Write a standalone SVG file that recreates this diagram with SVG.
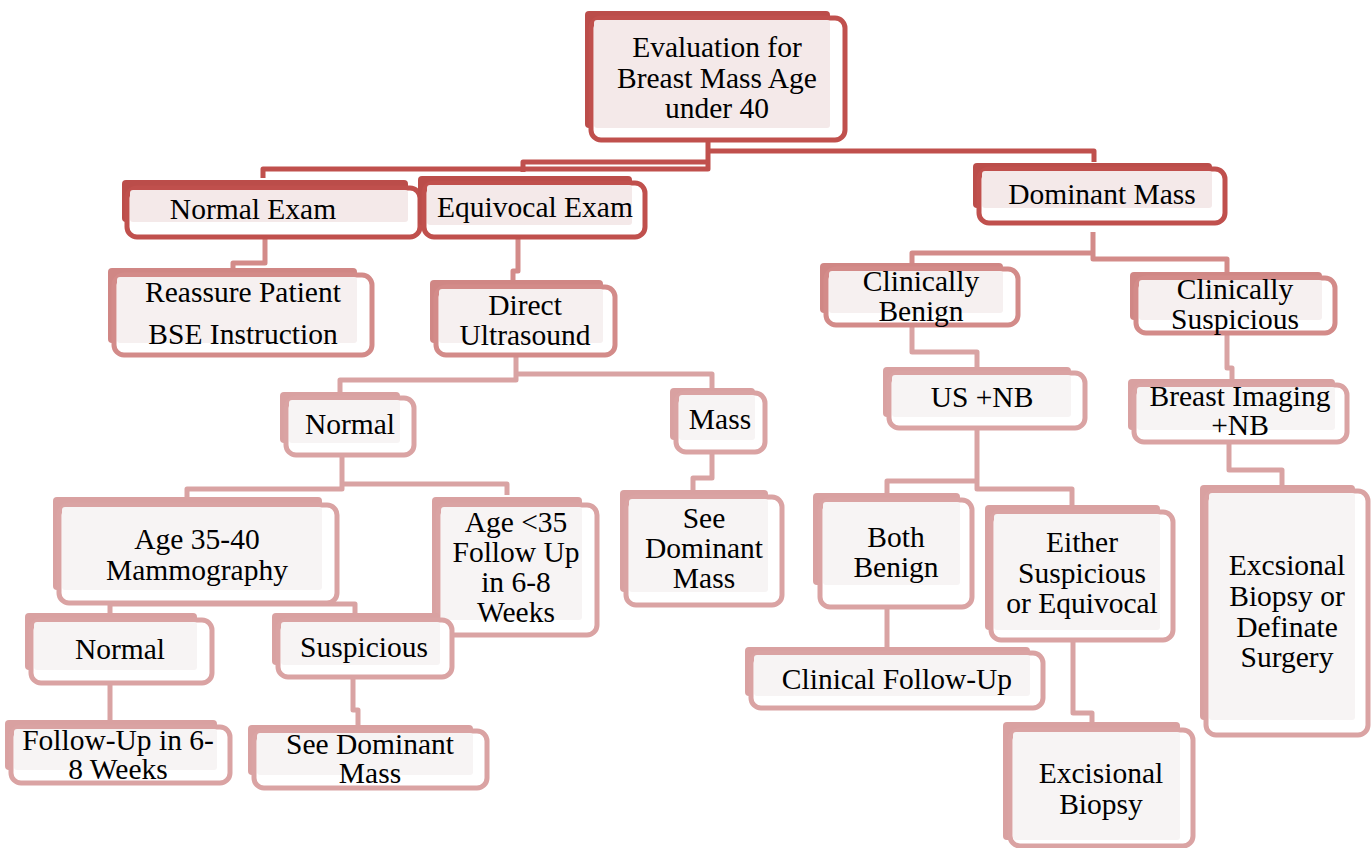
<svg xmlns="http://www.w3.org/2000/svg" width="1371" height="848" viewBox="0 0 1371 848">
<style>
text{font-family:'Liberation Serif','Times New Roman','DejaVu Serif',serif;font-size:29.5px;fill:#000;text-anchor:middle}
.bk{rx:4px}
.fr{fill:#fff;stroke-width:5;rx:10px}
.in{rx:3px}
.L1 .bk{fill:#bb4d4a}.L1 .fr{stroke:#c0504d}.L1 .in{fill:#f4e9e9}
.L2 .bk{fill:#d08785}.L2 .fr{stroke:#d38b89}.L2 .in{fill:#f6f0f0}
.L3 .bk{fill:#d9a1a1}.L3 .fr{stroke:#daa3a3}.L3 .in{fill:#f7f4f4}
#connectors path{fill:none;stroke-width:5;stroke-linejoin:round}
.c1{stroke:#c0504d}.c2{stroke:#d38b89}.c3{stroke:#d9a3a3}
</style>
<rect width="1371" height="848" fill="#fff"/>
<g id="connectors">
<path class="c1" d="M708,141 V169 H263 V178"/>
<path class="c1" d="M708,162 H523 V172"/>
<path class="c1" d="M708,151 H1094 V162"/>
<path class="c2" d="M265,237 V263 H233 V270"/>
<path class="c2" d="M518,237 V271 H513 V282"/>
<path class="c2" d="M1093,232 V259 H1227 V272"/>
<path class="c2" d="M1093,253 H912 V264"/>
<path class="c3" d="M516,355 V380 H340 V392"/>
<path class="c3" d="M516,374 H712 V388"/>
<path class="c3" d="M342,455 V489 H187 V498"/>
<path class="c3" d="M342,484 H507 V495"/>
<path class="c3" d="M712,452 V478 H693 V490"/>
<path class="c3" d="M912,325 V352 H977 V367"/>
<path class="c3" d="M1227,333 V368 H1232 V379"/>
<path class="c3" d="M977,428 V489 H1072 V505"/>
<path class="c3" d="M977,481 H887 V493"/>
<path class="c3" d="M1229,442 V470 H1282 V485"/>
<path class="c3" d="M887,607 V647"/>
<path class="c3" d="M1073,640 V713 H1092 V722"/>
<path class="c3" d="M110,613 V604 H355 V613"/>
<path class="c3" d="M110,683 V720"/>
<path class="c3" d="M353,677 V710 H358 V725"/>
</g>

<g id="n-root" class="L1">
<rect class="bk" x="585" y="11" width="245" height="117"/>
<rect class="fr" x="591" y="18" width="254" height="122"/>
<rect class="in" x="594" y="20" width="236" height="108"/>
<text><tspan x="717" y="57">Evaluation for</tspan><tspan x="717" y="88">Breast Mass Age</tspan><tspan x="717" y="118">under 40</tspan></text>
</g>
<g id="n-normal-exam" class="L1">
<rect class="bk" x="122" y="180" width="286" height="42"/>
<rect class="fr" x="127" y="188" width="293" height="49"/>
<rect class="in" x="130" y="190" width="278" height="32"/>
<text x="253" y="219">Normal Exam</text>
</g>
<g id="n-equivocal-exam" class="L1">
<rect class="bk" x="418" y="176" width="214" height="49"/>
<rect class="fr" x="424" y="183" width="221" height="54"/>
<rect class="in" x="427" y="185" width="205" height="40"/>
<text x="535" y="217">Equivocal Exam</text>
</g>
<g id="n-dominant-mass" class="L1">
<rect class="bk" x="973" y="163" width="239" height="45"/>
<rect class="fr" x="979" y="169" width="246" height="54"/>
<rect class="in" x="982" y="171" width="230" height="37"/>
<text x="1102" y="204">Dominant Mass</text>
</g>
<g id="n-reassure" class="L2">
<rect class="bk" x="108" y="268" width="249" height="75"/>
<rect class="fr" x="114" y="275" width="258" height="80"/>
<rect class="in" x="117" y="277" width="240" height="66"/>
<text><tspan x="243" y="302">Reassure Patient</tspan><tspan x="243" y="344">BSE Instruction</tspan></text>
</g>
<g id="n-direct-us" class="L2">
<rect class="bk" x="430" y="280" width="173" height="63"/>
<rect class="fr" x="436" y="287" width="179" height="68"/>
<rect class="in" x="439" y="289" width="164" height="54"/>
<text><tspan x="525" y="315">Direct</tspan><tspan x="525" y="345">Ultrasound</tspan></text>
</g>
<g id="n-clin-benign" class="L2">
<rect class="bk" x="820" y="263" width="183" height="50"/>
<rect class="fr" x="826" y="269" width="192" height="56"/>
<rect class="in" x="829" y="271" width="174" height="42"/>
<text><tspan x="921" y="291">Clinically</tspan><tspan x="921" y="321">Benign</tspan></text>
</g>
<g id="n-clin-susp" class="L2">
<rect class="bk" x="1130" y="272" width="192" height="48"/>
<rect class="fr" x="1136" y="278" width="199" height="55"/>
<rect class="in" x="1139" y="280" width="183" height="40"/>
<text><tspan x="1235" y="299">Clinically</tspan><tspan x="1235" y="329">Suspicious</tspan></text>
</g>
<g id="n-normal-us" class="L3">
<rect class="bk" x="280" y="392" width="120" height="51"/>
<rect class="fr" x="286" y="398" width="128" height="57"/>
<rect class="in" x="289" y="400" width="111" height="43"/>
<text x="350" y="434">Normal</text>
</g>
<g id="n-mass" class="L3">
<rect class="bk" x="670" y="388" width="85" height="52"/>
<rect class="fr" x="676" y="393" width="89" height="59"/>
<rect class="in" x="679" y="395" width="76" height="45"/>
<text x="720" y="429">Mass</text>
</g>
<g id="n-us-nb" class="L3">
<rect class="bk" x="883" y="367" width="188" height="50"/>
<rect class="fr" x="889" y="373" width="196" height="55"/>
<rect class="in" x="892" y="375" width="179" height="42"/>
<text x="982" y="407">US +NB</text>
</g>
<g id="n-breast-imaging" class="L3">
<rect class="bk" x="1128" y="379" width="207" height="51"/>
<rect class="fr" x="1134" y="385" width="213" height="57"/>
<rect class="in" x="1137" y="387" width="198" height="43"/>
<text><tspan x="1240" y="406">Breast Imaging</tspan><tspan x="1240" y="435">+NB</tspan></text>
</g>
<g id="n-age-35-40" class="L3">
<rect class="bk" x="53" y="497" width="269" height="93"/>
<rect class="fr" x="59" y="505" width="278" height="98"/>
<rect class="in" x="62" y="507" width="260" height="83"/>
<text><tspan x="197" y="549">Age 35-40</tspan><tspan x="197" y="580">Mammography</tspan></text>
</g>
<g id="n-age-lt-35" class="L3">
<rect class="bk" x="432" y="497" width="150" height="123"/>
<rect class="fr" x="438" y="505" width="159" height="130"/>
<rect class="in" x="441" y="507" width="141" height="113"/>
<text><tspan x="516" y="532">Age &lt;35</tspan><tspan x="516" y="562">Follow Up</tspan><tspan x="516" y="592">in 6-8</tspan><tspan x="516" y="622">Weeks</tspan></text>
</g>
<g id="n-see-dominant-1" class="L3">
<rect class="bk" x="620" y="490" width="148" height="102"/>
<rect class="fr" x="626" y="497" width="156" height="108"/>
<rect class="in" x="629" y="499" width="139" height="93"/>
<text><tspan x="704" y="528">See</tspan><tspan x="704" y="558">Dominant</tspan><tspan x="704" y="588">Mass</tspan></text>
</g>
<g id="n-both-benign" class="L3">
<rect class="bk" x="813" y="493" width="147" height="92"/>
<rect class="fr" x="820" y="500" width="152" height="107"/>
<rect class="in" x="823" y="502" width="137" height="83"/>
<text><tspan x="896" y="547">Both</tspan><tspan x="896" y="577">Benign</tspan></text>
</g>
<g id="n-either" class="L3">
<rect class="bk" x="985" y="505" width="175" height="125"/>
<rect class="fr" x="991" y="512" width="182" height="128"/>
<rect class="in" x="994" y="514" width="166" height="116"/>
<text><tspan x="1082" y="552">Either</tspan><tspan x="1082" y="583">Suspicious</tspan><tspan x="1082" y="613">or Equivocal</tspan></text>
</g>
<g id="n-excsional-surgery" class="L3">
<rect class="bk" x="1200" y="485" width="155" height="235"/>
<rect class="fr" x="1206" y="491" width="162" height="244"/>
<rect class="in" x="1209" y="493" width="146" height="227"/>
<text><tspan x="1287" y="575">Excsional</tspan><tspan x="1287" y="606">Biopsy or</tspan><tspan x="1287" y="637">Definate</tspan><tspan x="1287" y="667">Surgery</tspan></text>
</g>
<g id="n-clinical-followup" class="L3">
<rect class="bk" x="745" y="647" width="285" height="49"/>
<rect class="fr" x="751" y="653" width="292" height="55"/>
<rect class="in" x="754" y="655" width="276" height="41"/>
<text x="897" y="689">Clinical Follow-Up</text>
</g>
<g id="n-excisional-biopsy" class="L3">
<rect class="bk" x="1003" y="722" width="177" height="118"/>
<rect class="fr" x="1010" y="730" width="183" height="116"/>
<rect class="in" x="1013" y="732" width="167" height="108"/>
<text><tspan x="1101" y="783">Excisional</tspan><tspan x="1101" y="814">Biopsy</tspan></text>
</g>
<g id="n-normal-mammo" class="L3">
<rect class="bk" x="25" y="613" width="172" height="57"/>
<rect class="fr" x="31" y="620" width="181" height="63"/>
<rect class="in" x="34" y="622" width="163" height="48"/>
<text x="120" y="659">Normal</text>
</g>
<g id="n-suspicious-mammo" class="L3">
<rect class="bk" x="272" y="613" width="168" height="52"/>
<rect class="fr" x="278" y="620" width="174" height="57"/>
<rect class="in" x="281" y="622" width="159" height="43"/>
<text x="364" y="657">Suspicious</text>
</g>
<g id="n-followup-6-8" class="L3">
<rect class="bk" x="5" y="720" width="212" height="50"/>
<rect class="fr" x="11" y="727" width="219" height="56"/>
<rect class="in" x="14" y="729" width="203" height="41"/>
<text><tspan x="118" y="750">Follow-Up in 6-</tspan><tspan x="118" y="779">8 Weeks</tspan></text>
</g>
<g id="n-see-dominant-2" class="L3">
<rect class="bk" x="248" y="725" width="225" height="50"/>
<rect class="fr" x="254" y="731" width="233" height="57"/>
<rect class="in" x="257" y="733" width="216" height="42"/>
<text><tspan x="370" y="754">See Dominant</tspan><tspan x="370" y="783">Mass</tspan></text>
</g>
</svg>
